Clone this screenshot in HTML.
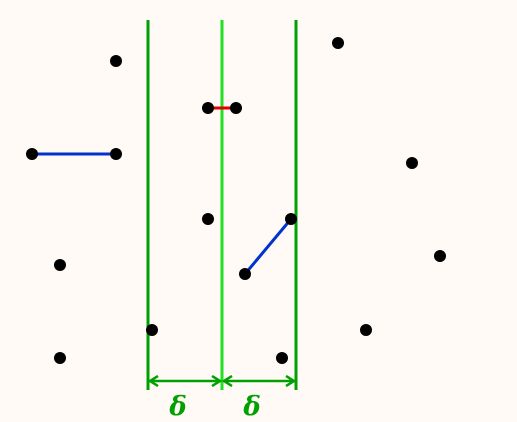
<!DOCTYPE html>
<html><head><meta charset="utf-8"><style>
html,body{margin:0;padding:0;background:#fffaf6;}
svg{display:block;}
</style></head><body>
<svg id="chart" width="517" height="422" viewBox="0 0 517 422">
<rect x="0" y="0" width="517" height="422" fill="#fffaf6"/>
<defs>
<marker id="ah" markerWidth="12" markerHeight="12" refX="10" refY="6" orient="auto-start-reverse" markerUnits="userSpaceOnUse">
<path d="M2,1 L10,6 L2,11" fill="none" stroke="#00a000" stroke-width="2.5"/>
</marker>
</defs>
<g id="lines"></g>
<g id="pts"></g>
</svg>
<script>
const px=[116,338,208,236,32,116,412,208,291,440,60,245,152,366,60,282];
const py=[61,43,108,108,154,154,163,219,219,256,265,274,330,330,358,358];
const stripX=[148,222,296];
const stripColors=["#00a000","#22e022","#00a000"];
const pairs=[[4,5,"#0033cc"],[2,3,"#dd0000"],[11,8,"#0033cc"]];
const deltaLabels=["δ","δ"];
const NS="http://www.w3.org/2000/svg";
const L=document.getElementById('lines'),P=document.getElementById('pts');
function mk(t,a,parent){const e=document.createElementNS(NS,t);for(const k in a)e.setAttribute(k,a[k]);parent.appendChild(e);return e;}
stripX.forEach((x,i)=>{
 const e=mk('line',{x1:x,y1:20,x2:x,y2:390,stroke:stripColors[i],'stroke-width':3},L);
 
 
});
for(let i=0;i<2;i++){
 const a=stripX[i],b=stripX[i+1];
 const e=mk('line',{x1:a+2,y1:381,x2:b-2,y2:381,stroke:'#00a000','stroke-width':2.5,'marker-start':'url(#ah)','marker-end':'url(#ah)'},L);
 
 
 const t=mk('text',{x:(a+b)/2-7,y:415,'text-anchor':'middle','font-family':'"DejaVu Serif","Liberation Serif",serif','font-style':'italic','font-weight':'bold','font-size':26,fill:'#00a000'},L);
 t.textContent=deltaLabels[i];
 
 
}
pairs.forEach(p=>{
 const e=mk('line',{x1:px[p[0]],y1:py[p[0]],x2:px[p[1]],y2:py[p[1]],stroke:p[2],'stroke-width':3},L);
 
 
});
px.forEach((x,i)=>{
 const c=mk('circle',{cx:x,cy:py[i],r:6,fill:'#000'},P);
 
 
});
</script>
</body></html>
